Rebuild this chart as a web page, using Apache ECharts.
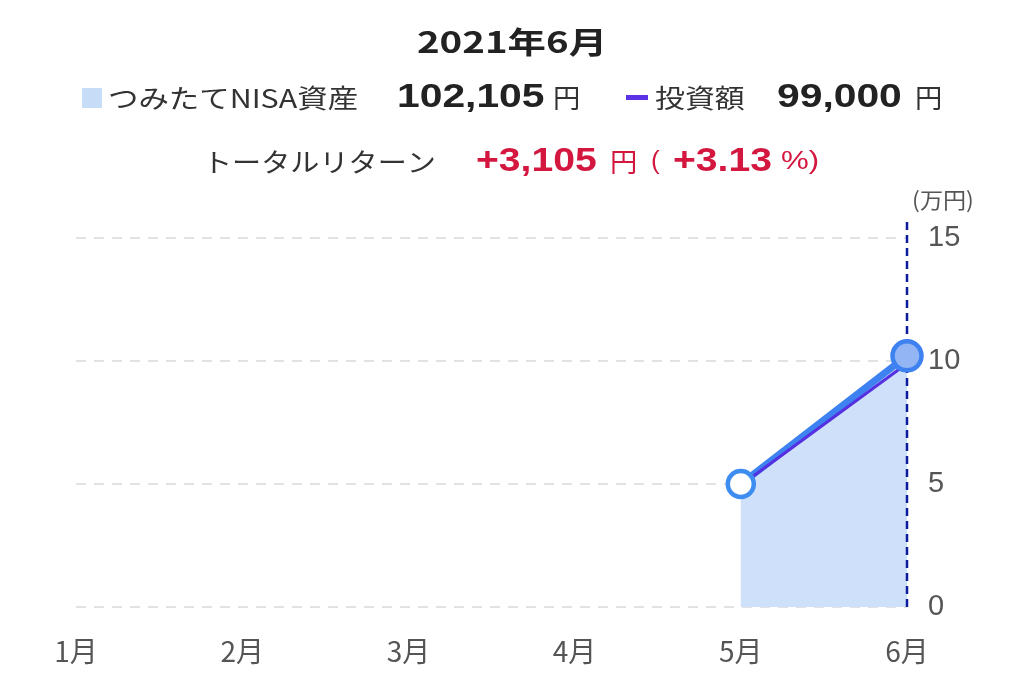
<!DOCTYPE html>
<html>
<head>
<meta charset="utf-8">
<script src="https://cdn.jsdelivr.net/npm/echarts@6/dist/echarts.min.js"></script>
<style>
html,body{margin:0;padding:0;background:#fff;}
#chart{width:1024px;height:680px;}
</style>
</head>
<body>
<div id="chart"></div>
<script>
const months = ['1月', '2月', '3月', '4月', '5月', '6月'];
const assetValues = [null, null, null, null, 5.0, 10.2105];
const investValues = [null, null, null, null, 4.95, 9.9];
const yMin = 0, yMax = 15, yStep = 5;
const currentMonth = '6月';
const cursorTop = 15.8;
const titleText = '2021年6月';
const assetName = 'つみたてNISA資産';
const assetAmount = '102,105';
const investName = '投資額';
const investAmount = '99,000';
const returnName = 'トータルリターン';
const returnAmount = '+3,105';
const returnPct = '+3.13';
const unitText = '(万円)';

const KANA = '"Noto Sans CJK JP", sans-serif';
const LAT = '"Liberation Sans", Arial, sans-serif';
function txt(x, y, text, font, fill, align, sx) {
  return {
    type: 'text', x: x, y: y, scaleX: sx || 1, silent: true,
    style: { text: text, font: font, fill: fill, textAlign: align || 'left', textVerticalAlign: 'middle' }
  };
}
const RED = '#d3173f';

const chart = echarts.init(document.getElementById('chart'));
const graphics = [
  txt(512, 42, titleText, 'bold 30px ' + KANA, '#222', 'center', 1.28),
  { type: 'rect', silent: true, shape: { x: 82, y: 88, width: 20, height: 20 }, style: { fill: '#c6dcf7' } },
  txt(108, 98, assetName, '26px ' + KANA, '#333', 'left', 1.17),
  txt(397, 98, assetAmount, 'bold 34px ' + LAT, '#222', 'left', 1.2),
  txt(553, 98, '円', '26px ' + KANA, '#333', 'left', 1.05),
  { type: 'rect', silent: true, shape: { x: 626, y: 95, width: 22, height: 5 }, style: { fill: '#5a33e6' } },
  txt(655, 98, investName, '26px ' + KANA, '#333', 'left', 1.15),
  txt(777, 98, investAmount, 'bold 34px ' + LAT, '#222', 'left', 1.2),
  txt(915, 98, '円', '26px ' + KANA, '#333', 'left', 1.05),
  txt(203, 162, returnName, '26px ' + KANA, '#333', 'left', 1.12),
  txt(476, 162, returnAmount, 'bold 34px ' + LAT, RED, 'left', 1.15),
  txt(610, 162, '円', '26px ' + KANA, RED, 'left', 1.05),
  txt(651, 162, '(', '26px ' + LAT, RED, 'left', 1),
  txt(673, 162, returnPct, 'bold 34px ' + LAT, RED, 'left', 1.15),
  txt(781, 162, '%)', '26px ' + LAT, RED, 'left', 1.2),
  txt(943, 200, unitText, '22px ' + KANA, '#555', 'center', 1.05)
];
chart.setOption({
  animation: false,
  backgroundColor: '#fff',
  grid: { left: 76, right: 117, top: 238, bottom: 73 },
  xAxis: {
    type: 'category', data: months, boundaryGap: false,
    axisLine: { show: false }, axisTick: { show: false },
    axisLabel: { color: '#555', fontSize: 28, margin: 30, fontFamily: KANA }
  },
  yAxis: {
    type: 'value', position: 'right', min: yMin, max: yMax, interval: yStep,
    axisLine: { show: false }, axisTick: { show: false },
    axisLabel: { color: '#555', fontSize: 29, margin: 21, fontFamily: LAT },
    splitLine: { lineStyle: { color: '#e2e2e2', width: 2, type: [10, 8] } }
  },
  series: [
    {
      name: assetName, type: 'line', data: assetValues, z: 2,
      showSymbol: false, symbol: 'none',
      lineStyle: { color: '#3d82f0', width: 7 },
      areaStyle: { color: '#cfe0fa', opacity: 1 }
    },
    {
      name: investName, type: 'line', data: investValues, z: 3,
      symbol: 'none',
      lineStyle: { color: '#5530e0', width: 3 }
    },
    {
      name: 'marker', type: 'line', z: 5, clip: false,
      data: assetValues.map(function (v, i) {
        if (months[i] === currentMonth) {
          return { value: v, symbolSize: 29, itemStyle: { color: '#93b5f4', borderColor: '#3d82f0', borderWidth: 4.5 } };
        }
        return v;
      }),
      symbol: 'circle', symbolSize: 26,
      lineStyle: { width: 0, opacity: 0 },
      itemStyle: { color: '#ffffff', borderColor: '#3d8cf0', borderWidth: 4.5 }
    }
  ],
  graphic: graphics
});
// vertical cursor line at the current month, positioned through the chart's own scales
const pBottom = chart.convertToPixel({ gridIndex: 0 }, [currentMonth, yMin]);
const pTop = chart.convertToPixel({ gridIndex: 0 }, [currentMonth, cursorTop]);
graphics.push({
  type: 'line', silent: true, z: 4,
  shape: { x1: pBottom[0], y1: pBottom[1], x2: pTop[0], y2: pTop[1] },
  style: { stroke: '#0d1c9c', lineWidth: 2.5, lineDash: [8, 5] }
});
chart.setOption({ graphic: graphics });
</script>
</body>
</html>
